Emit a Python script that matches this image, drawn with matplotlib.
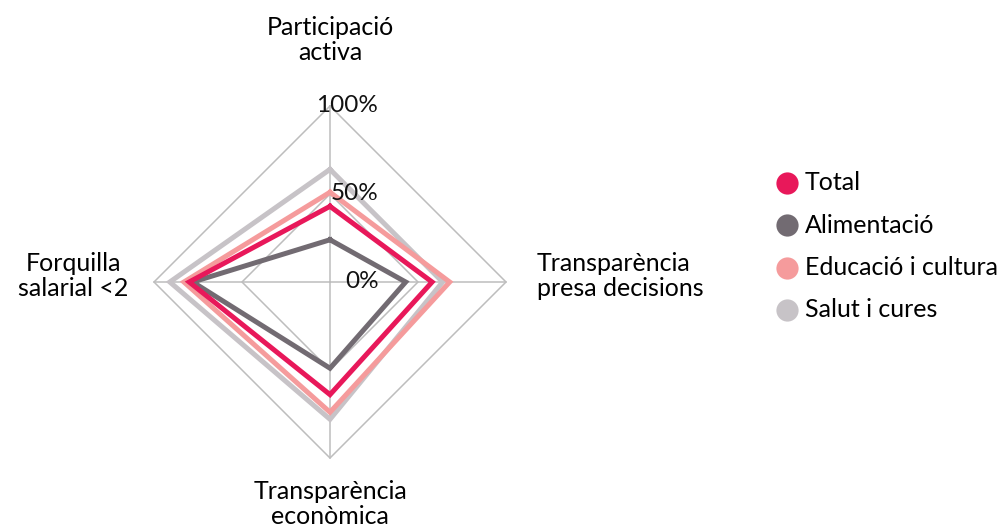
import numpy as np
import matplotlib.pyplot as plt

plt.rcParams['font.family'] = ['Lato', 'DejaVu Sans']

# axes, clockwise from top
axes_labels = ['Participació\nactiva', 'Transparència\npresa decisions',
               'Transparència\neconòmica', 'Forquilla\nsalarial <2']
series = ['Total', 'Alimentació', 'Educació i cultura', 'Salut i cures']
total = [43, 58, 64, 80]
alimentacio = [24, 43, 49, 78]
educacio = [51, 68, 74, 83]
salut = [64, 64, 78, 91]
colors = ['#E8185A', '#726B72', '#F59B9C', '#C7C3C7']
tick_vals = [0, 50, 100]
tick_labels = ['0%', '50%', '100%']

W, H = 1008, 529
cx, cy = 330, 282       # centre in pixels (from top)
scale = 1.76            # pixels per percent

fig = plt.figure(figsize=(W / 100, H / 100), dpi=100)
ax = fig.add_axes([0, 0, 1, 1])
ax.set_xlim(-cx / scale, (W - cx) / scale)
ax.set_ylim(-(H - cy) / scale, cy / scale)
ax.axis('off')

angles = np.arange(len(axes_labels)) * np.pi / 2


def to_xy(vals):
    v = np.asarray(vals + vals[:1], dtype=float)
    a = np.append(angles, angles[0])
    return v * np.sin(a), v * np.cos(a)


grid_c = '#BDBDBD'
for r in [50, 100]:
    gx, gy = to_xy([r] * 4)
    ax.plot(gx, gy, color=grid_c, lw=1.1, zorder=1)
for a in angles:
    ax.plot([0, 100 * np.sin(a)], [0, 100 * np.cos(a)], color=grid_c, lw=1.1, zorder=1)

data = [total, alimentacio, educacio, salut]
order = [3, 2, 1, 0]
for i in order:
    sx, sy = to_xy(data[i])
    ax.plot(sx, sy, color=colors[i], lw=3.6, solid_joinstyle='miter', zorder=2 + (3 - i))

for v, t in zip(tick_vals, tick_labels):
    ax.text(27.5, v, t, ha='right', va='center', fontsize=17.5, color='#111111', zorder=10)

fs = 18
ax.text(0, 137.5, axes_labels[0], ha='center', va='center', fontsize=fs, linespacing=1.15)
ax.text(117.5, 3.4, axes_labels[1], ha='left', va='center', fontsize=fs, linespacing=1.15)
ax.text(0, -126, axes_labels[2], ha='center', va='center', fontsize=fs, linespacing=1.1)
ax.text(-146, 3.4, axes_labels[3], ha='center', va='center', fontsize=fs, linespacing=1.15)

# legend
lx = (787 - cx) / scale
for k, (name, c) in enumerate(zip(series, colors)):
    ly = (cy - (183 + k * 42.3)) / scale
    ax.plot([lx], [ly], 'o', ms=16, color=c, mec='none')
    ax.text(lx + 10, ly, name, ha='left', va='center', fontsize=fs)

fig.savefig('out.png', dpi=100)
